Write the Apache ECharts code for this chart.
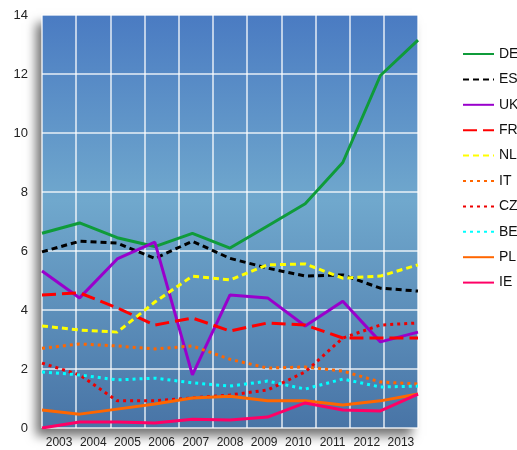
<!DOCTYPE html>
<html>
<head>
<meta charset="utf-8">
<script src="https://cdn.jsdelivr.net/npm/echarts@6/dist/echarts.min.js"></script>
<style>
	html,body{margin:0;padding:0;background:#fff;}
	#main{width:517px;height:450px;}
</style>
</head>
<body>
<div id="main"></div>
<script>
	// 年份
	var years = ['2003','2004','2005','2006','2007','2008','2009','2010','2011','2012','2013'];
	// 各国数据
	var de = [6.6, 6.95, 6.45, 6.15, 6.6, 6.1, 6.85, 7.6, 9.0, 11.95, 13.15];
	var es = [5.97, 6.33, 6.27, 5.75, 6.33, 5.75, 5.42, 5.15, 5.19, 4.74, 4.64];
	var uk = [5.32, 4.41, 5.73, 6.3, 1.8, 4.51, 4.41, 3.46, 4.3, 2.92, 3.25];
	var fr = [4.51, 4.58, 4.07, 3.49, 3.73, 3.29, 3.56, 3.49, 3.05, 3.05, 3.05];
	var nl = [3.46, 3.32, 3.25, 4.27, 5.15, 5.02, 5.53, 5.56, 5.08, 5.15, 5.53];
	var it = [2.7, 2.85, 2.78, 2.68, 2.78, 2.33, 2.03, 2.07, 1.93, 1.56, 1.49];
	var cz = [2.2, 1.8, 0.92, 0.92, 1.02, 1.12, 1.29, 1.9, 3.05, 3.49, 3.56];
	var be = [1.9, 1.8, 1.63, 1.69, 1.53, 1.42, 1.59, 1.32, 1.66, 1.39, 1.42];
	var pl = [0.61, 0.47, 0.64, 0.81, 1.02, 1.08, 0.92, 0.92, 0.78, 0.92, 1.15];
	var ie = [0.0, 0.2, 0.2, 0.17, 0.3, 0.27, 0.37, 0.85, 0.61, 0.58, 1.15];
	var yTicks = [0, 2, 4, 6, 8, 10, 12, 14];

	var seriesDefs = [
		{name:'DE', data:de, color:'#0f9b3a', type:'solid'},
		{name:'ES', data:es, color:'#000000', type:[6,4]},
		{name:'UK', data:uk, color:'#9900cc', type:'solid'},
		{name:'FR', data:fr, color:'#ff0000', type:[14,6]},
		{name:'NL', data:nl, color:'#ffff00', type:[6,4]},
		{name:'IT', data:it, color:'#ff6600', type:[3,4]},
		{name:'CZ', data:cz, color:'#ee0000', type:[3,4]},
		{name:'BE', data:be, color:'#00ffff', type:[3,4]},
		{name:'PL', data:pl, color:'#ff6600', type:'solid'},
		{name:'IE', data:ie, color:'#ff0066', type:'solid'}
	];

	var myChart = echarts.init(document.getElementById('main'));
	var option = {
		animation:false,
		grid:{
			left:42, right:99, top:15, bottom:22,
			show:true,
			borderWidth:0,
			backgroundColor:{
				type:'linear', x:0, y:0, x2:0, y2:1,
				colorStops:[
					{offset:0, color:'#4a7bc2'},
					{offset:0.45, color:'#70a8cd'},
					{offset:1, color:'#4874a6'}
				]
			},
			shadowColor:'rgba(0,0,0,0.55)',
			shadowBlur:10,
			shadowOffsetX:-6,
			shadowOffsetY:8
		},
		legend:{
			orient:'vertical',
			left:462, top:47, padding:0,
			itemWidth:31, itemHeight:14, itemGap:11.4,
			itemStyle:{color:'transparent', borderWidth:0, opacity:0},
			textStyle:{fontSize:14, color:'#111', fontFamily:'Liberation Sans'},
			data:seriesDefs.map(function(s){return s.name;})
		},
		xAxis:[{
			type:'value', min:0, max:10, show:false
		},{
			type:'category',
			position:'bottom',
			boundaryGap:true,
			data:years,
			axisLine:{show:false},
			axisTick:{show:false},
			axisLabel:{interval:0, fontSize:12, color:'#222', margin:9, fontFamily:'Liberation Sans'},
			splitLine:{show:true, interval:0, lineStyle:{color:'rgba(255,255,255,0.85)', width:1.5}}
		}],
		yAxis:{
			type:'value', min:yTicks[0], max:yTicks[yTicks.length-1], interval:2,
			axisLine:{show:false},
			axisTick:{show:false},
			axisLabel:{fontSize:13, color:'#222', margin:14, fontFamily:'Liberation Sans'},
			splitLine:{show:true, lineStyle:{color:'rgba(255,255,255,0.85)', width:1.5}}
		},
		series:seriesDefs.map(function(s){
			return {
				name:s.name,
				type:'line',
				xAxisIndex:0,
				symbol:'none',
				color:s.color,
				lineStyle:{color:s.color, width:3, type:s.type},
				data:s.data.map(function(v,i){return [i,v];})
			};
		})
	};
	myChart.setOption(option);
</script>
</body>
</html>
